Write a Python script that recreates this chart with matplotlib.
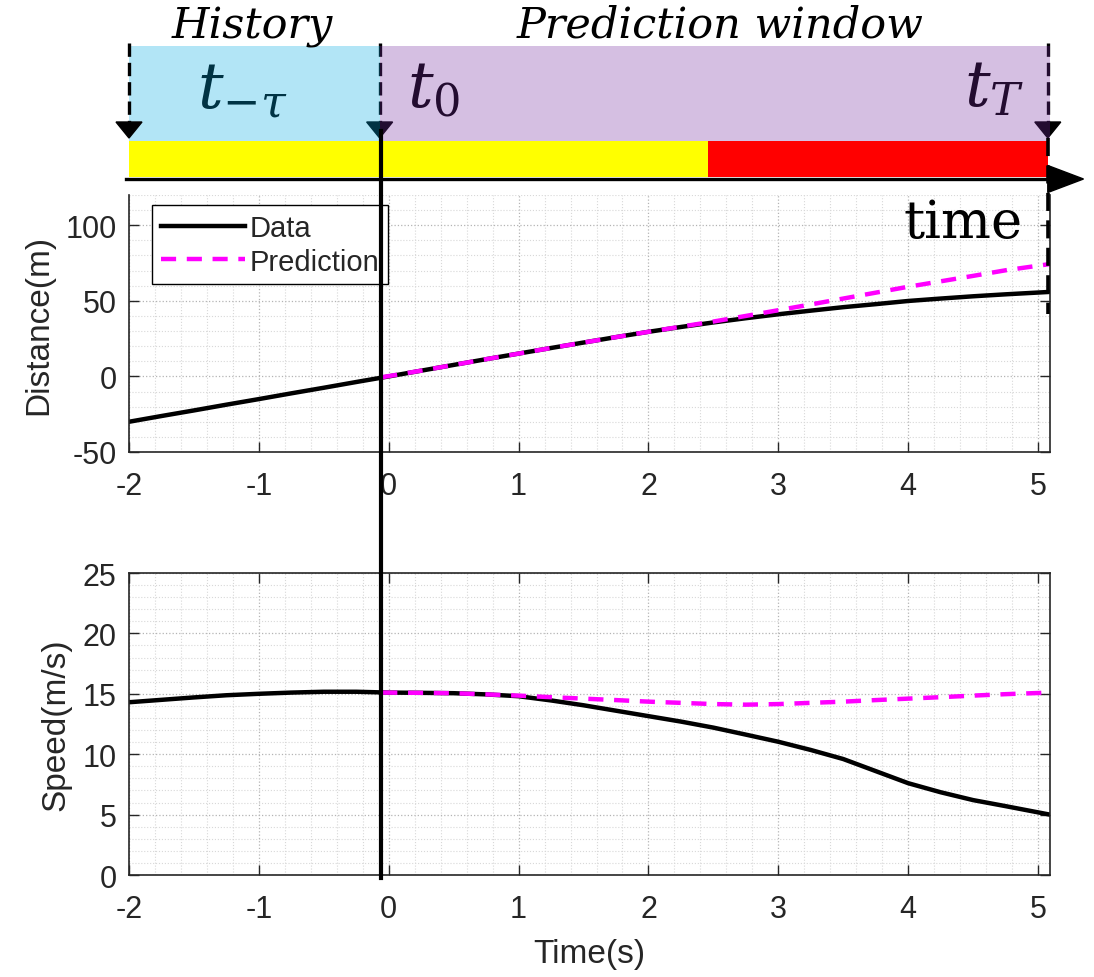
import matplotlib
matplotlib.use("Agg")
import matplotlib.pyplot as plt
from matplotlib.patches import Rectangle, Polygon
from matplotlib.ticker import MultipleLocator

plt.rcParams['font.family'] = ['Liberation Sans', 'DejaVu Sans']
plt.rcParams['mathtext.fontset'] = 'dejavuserif'
plt.rcParams['axes.unicode_minus'] = False

# ---------------- data ----------------
time_data = [-2.0, -1.75, -1.5, -1.25, -1.0, -0.75, -0.5, -0.25, 0.0, 0.25, 0.5, 0.75,
             1.0, 1.25, 1.5, 1.75, 2.0, 2.25, 2.5, 2.75, 3.0, 3.25, 3.5, 3.75,
             4.0, 4.25, 4.5, 4.75, 5.09]
distance_data = [-30.0, -26.2, -22.5, -18.7, -15.0, -11.2, -7.5, -3.7, 0.0, 3.8, 7.6, 11.4,
                 15.1, 18.8, 22.4, 26.0, 29.5, 32.7, 35.7, 38.5, 41.1, 43.5, 45.8, 47.8,
                 49.9, 51.5, 53.0, 54.3, 55.9]
speed_data = [14.3, 14.5, 14.7, 14.88, 15.0, 15.1, 15.17, 15.17, 15.1, 15.08, 15.05, 14.95,
              14.8, 14.45, 14.05, 13.6, 13.15, 12.7, 12.2, 11.62, 11.03, 10.35, 9.6, 8.6,
              7.6, 6.85, 6.2, 5.7, 5.0]

time_pred = [-0.05, 0.25, 0.5, 0.75, 1.0, 1.25, 1.5, 1.75, 2.0, 2.25, 2.5, 2.75,
             3.0, 3.25, 3.5, 3.75, 4.0, 4.25, 4.5, 4.75, 5.09]
distance_pred = [-0.5, 3.8, 7.6, 11.4, 15.1, 18.8, 22.4, 26.0, 29.5, 32.9, 36.3, 40.0,
                 43.8, 47.6, 51.5, 55.4, 59.3, 62.9, 66.5, 70.2, 74.3]
speed_pred = [15.1, 15.08, 15.05, 14.95, 14.85, 14.72, 14.6, 14.48, 14.35, 14.25, 14.15, 14.1,
              14.15, 14.25, 14.35, 14.48, 14.6, 14.72, 14.85, 14.97, 15.1]

series_labels = ['Data', 'Prediction']
x_ticks = [-2, -1, 0, 1, 2, 3, 4, 5]
distance_ticks = [-50, 0, 50, 100]
speed_ticks = [0, 5, 10, 15, 20, 25]

# timeline markers (seconds)
t_start = -2.0
t_zero = -0.07
t_switch = 2.455
t_horizon = 5.075
t_max = 5.092

# ---------------- figure ----------------
W, H = 1094, 978
fig = plt.figure(figsize=(W / 100, H / 100), dpi=100)


def frac(left, top, right, bottom):
    return [left / W, 1 - bottom / H, (right - left) / W, (bottom - top) / H]


ax_d = fig.add_axes(frac(129, 196, 1050, 453))
ax_s = fig.add_axes(frac(129, 574, 1050, 876))
ax_t = fig.add_axes(frac(129, 0, 1050, 196))

ink = '#262626'
for ax in (ax_d, ax_s):
    ax.set_xlim(t_start, t_max)
    ax.set_xticks(x_ticks)
    ax.xaxis.set_minor_locator(MultipleLocator(0.2))
    ax.tick_params(which='major', direction='in', top=True, right=True, length=7,
                   width=1, color=ink, labelsize=22, labelcolor=ink)
    ax.tick_params(axis='x', which='major', pad=14)
    ax.tick_params(axis='y', which='major', pad=9)
    ax.tick_params(which='minor', length=0)
    ax.grid(which='major', linestyle=':', color='#b4b4b4', linewidth=0.9)
    ax.grid(which='minor', linestyle=':', color='#d8d8d8', linewidth=0.8)
    ax.set_axisbelow(True)
    for sp in ax.spines.values():
        sp.set_color(ink)
        sp.set_linewidth(1.2)

line_w = 3.2
pred_dash = (0, (3.4, 2.4))

# distance panel
ax_d.set_ylim(-50, 120)
ax_d.set_yticks(distance_ticks)
ax_d.yaxis.set_minor_locator(MultipleLocator(10))
ax_d.spines['top'].set_visible(False)
ax_d.tick_params(which='major', top=False)
ld, = ax_d.plot(time_data, distance_data, color='black', lw=line_w)
lp, = ax_d.plot(time_pred, distance_pred, color='#ff00ff', lw=line_w, linestyle=pred_dash)
ax_d.set_ylabel('Distance(m)', fontsize=24, color=ink, labelpad=8)
leg = ax_d.legend([ld, lp], series_labels, loc='upper left',
                  bbox_to_anchor=(23 / 921, 1 - 10 / 257), borderaxespad=0,
                  fontsize=21, handlelength=2.9, handletextpad=0.15,
                  borderpad=0.3, labelspacing=0.2, fancybox=False, framealpha=1)
leg.get_frame().set_edgecolor('black')
leg.get_frame().set_linewidth(1.0)
for txt in leg.get_texts():
    txt.set_color(ink)

# speed panel
ax_s.set_ylim(0, 25)
ax_s.set_yticks(speed_ticks)
ax_s.yaxis.set_minor_locator(MultipleLocator(1))
ax_s.plot(time_data, speed_data, color='black', lw=line_w)
ax_s.plot(time_pred, speed_pred, color='#ff00ff', lw=line_w, linestyle=pred_dash)
ax_s.set_ylabel('Speed(m/s)', fontsize=24, color=ink, labelpad=8)
ax_s.set_xlabel('Time(s)', fontsize=24, color=ink, labelpad=10)

# ---------------- timeline schematic ----------------
ax_t.set_xlim(t_start, t_max)
ax_t.set_ylim(196, 0)
ax_t.axis('off')

serif = ['DejaVu Serif']
dash = (0, (4, 1.8))
head_half = 0.1

# labels and arrows underneath the translucent windows
ax_t.text(-1.477, 108, r'$t_{-\tau}$', fontsize=46, ha='left', va='baseline',
          color='black', zorder=1)
ax_t.text(0.138, 108, r'$t_0$', fontsize=46, ha='left', va='baseline',
          color='black', zorder=1)
ax_t.text(4.43, 106, r'$t_T$', fontsize=46, ha='left', va='baseline',
          color='black', zorder=1)

for tx, z in ((t_start, 5), (t_zero, 1), (t_horizon, 1)):
    ax_t.plot([tx, tx], [44, 124], color='black', lw=2.4, linestyle=dash,
              zorder=z, clip_on=False)
    ax_t.add_patch(Polygon([(tx - head_half, 123), (tx + head_half, 123), (tx, 139)],
                           closed=True, color='black', zorder=z, clip_on=False))

# history / prediction windows
ax_t.add_patch(Rectangle((t_start, 47), t_zero - t_start, 95, facecolor='#00abe4',
                         alpha=0.3, edgecolor='none', zorder=2))
ax_t.add_patch(Rectangle((t_zero, 47), t_max - t_zero, 95, facecolor='#752ba0',
                         alpha=0.3, edgecolor='none', zorder=2))

# phase bars
ax_t.add_patch(Rectangle((t_start, 142), t_switch - t_start, 36, facecolor='#ffff00',
                         edgecolor='none', zorder=3))
ax_t.add_patch(Rectangle((t_switch, 142), t_horizon - t_switch, 36, facecolor='#ff0000',
                         edgecolor='none', zorder=3))

# time axis arrow
ax_t.plot([-2.02, 5.1], [180, 180], color='black', lw=2.4, zorder=4, clip_on=False)
ax_t.add_patch(Polygon([(t_horizon, 166.5), (t_horizon, 193.5), (5.35, 180)],
                       closed=True, color='black', zorder=4, clip_on=False))

# horizon marker running down into the distance panel
ax_t.plot([t_horizon, t_horizon], [139, 315], color='black', lw=2.6,
          linestyle=(0, (5, 2.6)), zorder=4, clip_on=False)

# present-time line through both panels
ax_t.plot([t_zero + 0.01, t_zero + 0.01], [132, 879], color='black', lw=3.0,
          zorder=5, clip_on=False)

ax_t.text(-1.05, 38, 'History', fontsize=31, style='italic', family=serif,
          ha='center', va='baseline', color='black', zorder=6)
ax_t.text(2.55, 38, 'Prediction window', fontsize=31, style='italic', family=serif,
          ha='center', va='baseline', color='black', zorder=6)
ax_t.text(4.884, 238, 'time', fontsize=38, family=serif, ha='right', va='baseline',
          color='black', zorder=6)

fig.savefig('out.png', dpi=100)
